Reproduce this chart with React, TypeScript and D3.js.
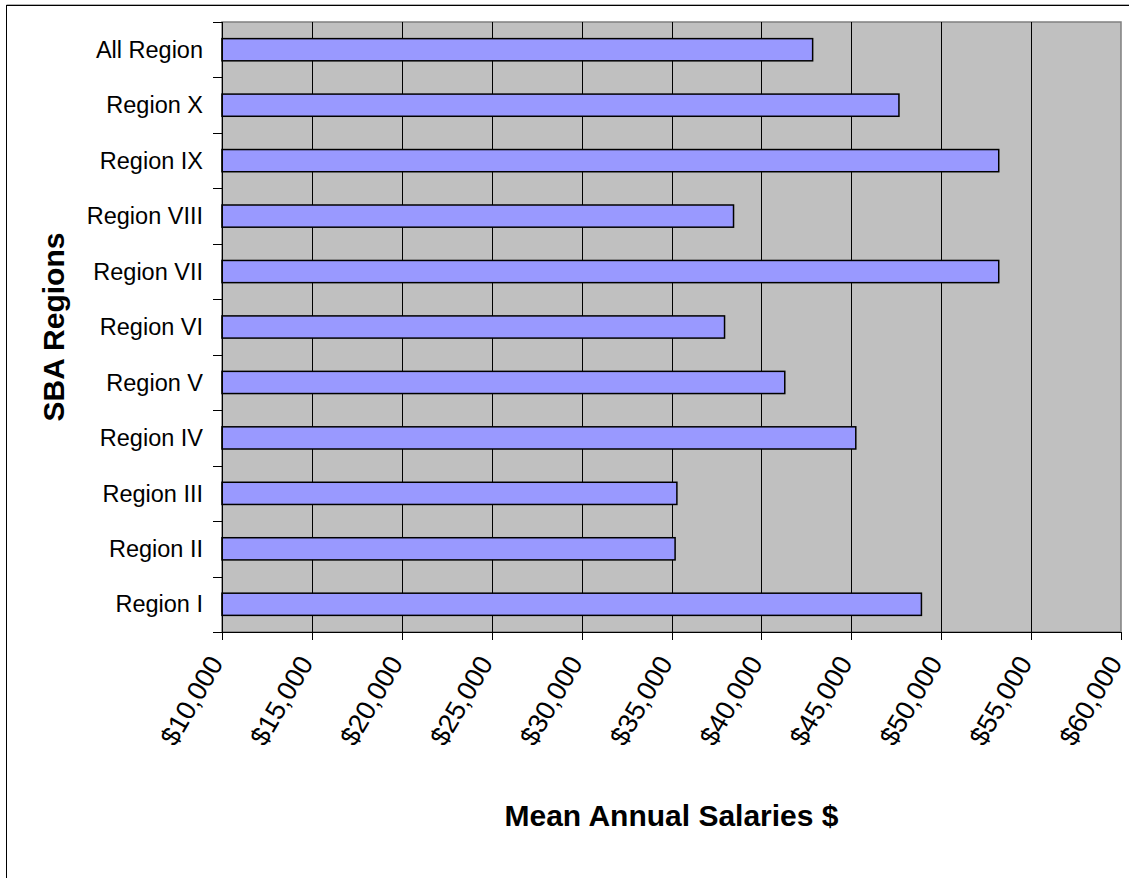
import React from "react";
import * as d3 from "d3";

const categories = [
  "Region I",
  "Region II",
  "Region III",
  "Region IV",
  "Region V",
  "Region VI",
  "Region VII",
  "Region VIII",
  "Region IX",
  "Region X",
  "All Region",
];
const salaries = [48900, 35200, 35300, 45250, 41300, 37950, 53200, 38450, 53200, 47650, 42850];
const xTicks = [10000, 15000, 20000, 25000, 30000, 35000, 40000, 45000, 50000, 55000, 60000];
const xTitle = "Mean Annual Salaries $";
const yTitle = "SBA Regions";

const W = 1129;
const H = 878;
const FONT = "'Liberation Sans', Arial, Helvetica, sans-serif";

export default function App() {
  const left = 222, right = 1121, top = 22, bottom = 632;
  const x = d3.scaleLinear().domain([10000, 60000]).range([left, right]);
  const y = d3
    .scaleBand<string>()
    .domain([...categories].reverse())
    .range([top, bottom])
    .paddingInner(0)
    .paddingOuter(0);
  const band = y.bandwidth();
  const barH = band / 2.5;
  const fmt = (v: number) => "$" + d3.format(",")(v);
  const boundaries = d3.range(categories.length + 1).map((i) => top + i * band);
  const angle = 60;

  return (
    <div style={{ position: "fixed", left: 0, top: 0, width: W, height: H, overflow: "hidden", background: "#fff" }}>
      <svg width={W} height={H} style={{ display: "block" }} fontFamily={FONT}>
        <rect x={0} y={0} width={W} height={H} fill="#fff" />
        {/* outer chart border */}
        <line x1={6.5} x2={W + 5} y1={4.5} y2={4.5} stroke="#b0b0b0" strokeWidth={1} />
        <rect x={6.5} y={5.5} width={W + 20} height={H + 20} fill="none" stroke="#000" strokeWidth={1} />
        {/* plot area */}
        <rect x={left} y={top} width={right - left} height={bottom - top} fill="#C0C0C0" stroke="#808080" strokeWidth={1.5} />
        {/* gridlines */}
        {xTicks.slice(1, -1).map((t) => (
          <line key={"g" + t} x1={Math.round(x(t)) + 0.5} x2={Math.round(x(t)) + 0.5} y1={top} y2={bottom} stroke="#000" strokeWidth={1} />
        ))}
        {/* bars */}
        {categories.map((c, i) => {
          const y0 = (y(c) as number) + (band - barH) / 2;
          return (
            <rect
              key={c}
              x={x(10000)}
              y={y0}
              width={x(salaries[i]) - x(10000)}
              height={barH}
              fill="#9999FF"
              stroke="#000"
              strokeWidth={1.5}
            />
          );
        })}
        {/* axes */}
        <line x1={left + 0.5} x2={left + 0.5} y1={top} y2={bottom + 1} stroke="#000" strokeWidth={1} />
        <line x1={left - 9} x2={right} y1={bottom + 0.5} y2={bottom + 0.5} stroke="#000" strokeWidth={1} />
        {boundaries.map((b, i) => (
          <line key={"yt" + i} x1={left - 9} x2={left} y1={Math.round(b) + 0.5} y2={Math.round(b) + 0.5} stroke="#000" strokeWidth={1} />
        ))}
        {xTicks.map((t) => (
          <line key={"xt" + t} x1={Math.round(x(t)) + 0.5} x2={Math.round(x(t)) + 0.5} y1={bottom} y2={bottom + 8} stroke="#000" strokeWidth={1} />
        ))}
        {/* category labels */}
        {categories.map((c) => (
          <text
            key={"l" + c}
            x={203}
            y={(y(c) as number) + band / 2}
            dy="0.35em"
            textAnchor="end"
            fontSize={23.5}
            fill="#000"
          >
            {c}
          </text>
        ))}
        {/* x tick labels */}
        {xTicks.map((t) => (
          <text
            key={"xl" + t}
            transform={`translate(${x(t) + 2},${663}) rotate(${-angle})`}
            textAnchor="end"
            fontSize={27}
            fill="#000"
          >
            {fmt(t)}
          </text>
        ))}
        {/* titles */}
        <text x={(left + right) / 2} y={826} textAnchor="middle" fontSize={30} fontWeight="bold" fill="#000">
          {xTitle}
        </text>
        <text
          transform={`translate(64,${(top + bottom) / 2}) rotate(-90)`}
          textAnchor="middle"
          fontSize={30}
          fontWeight="bold"
          fill="#000"
        >
          {yTitle}
        </text>
      </svg>
    </div>
  );
}
